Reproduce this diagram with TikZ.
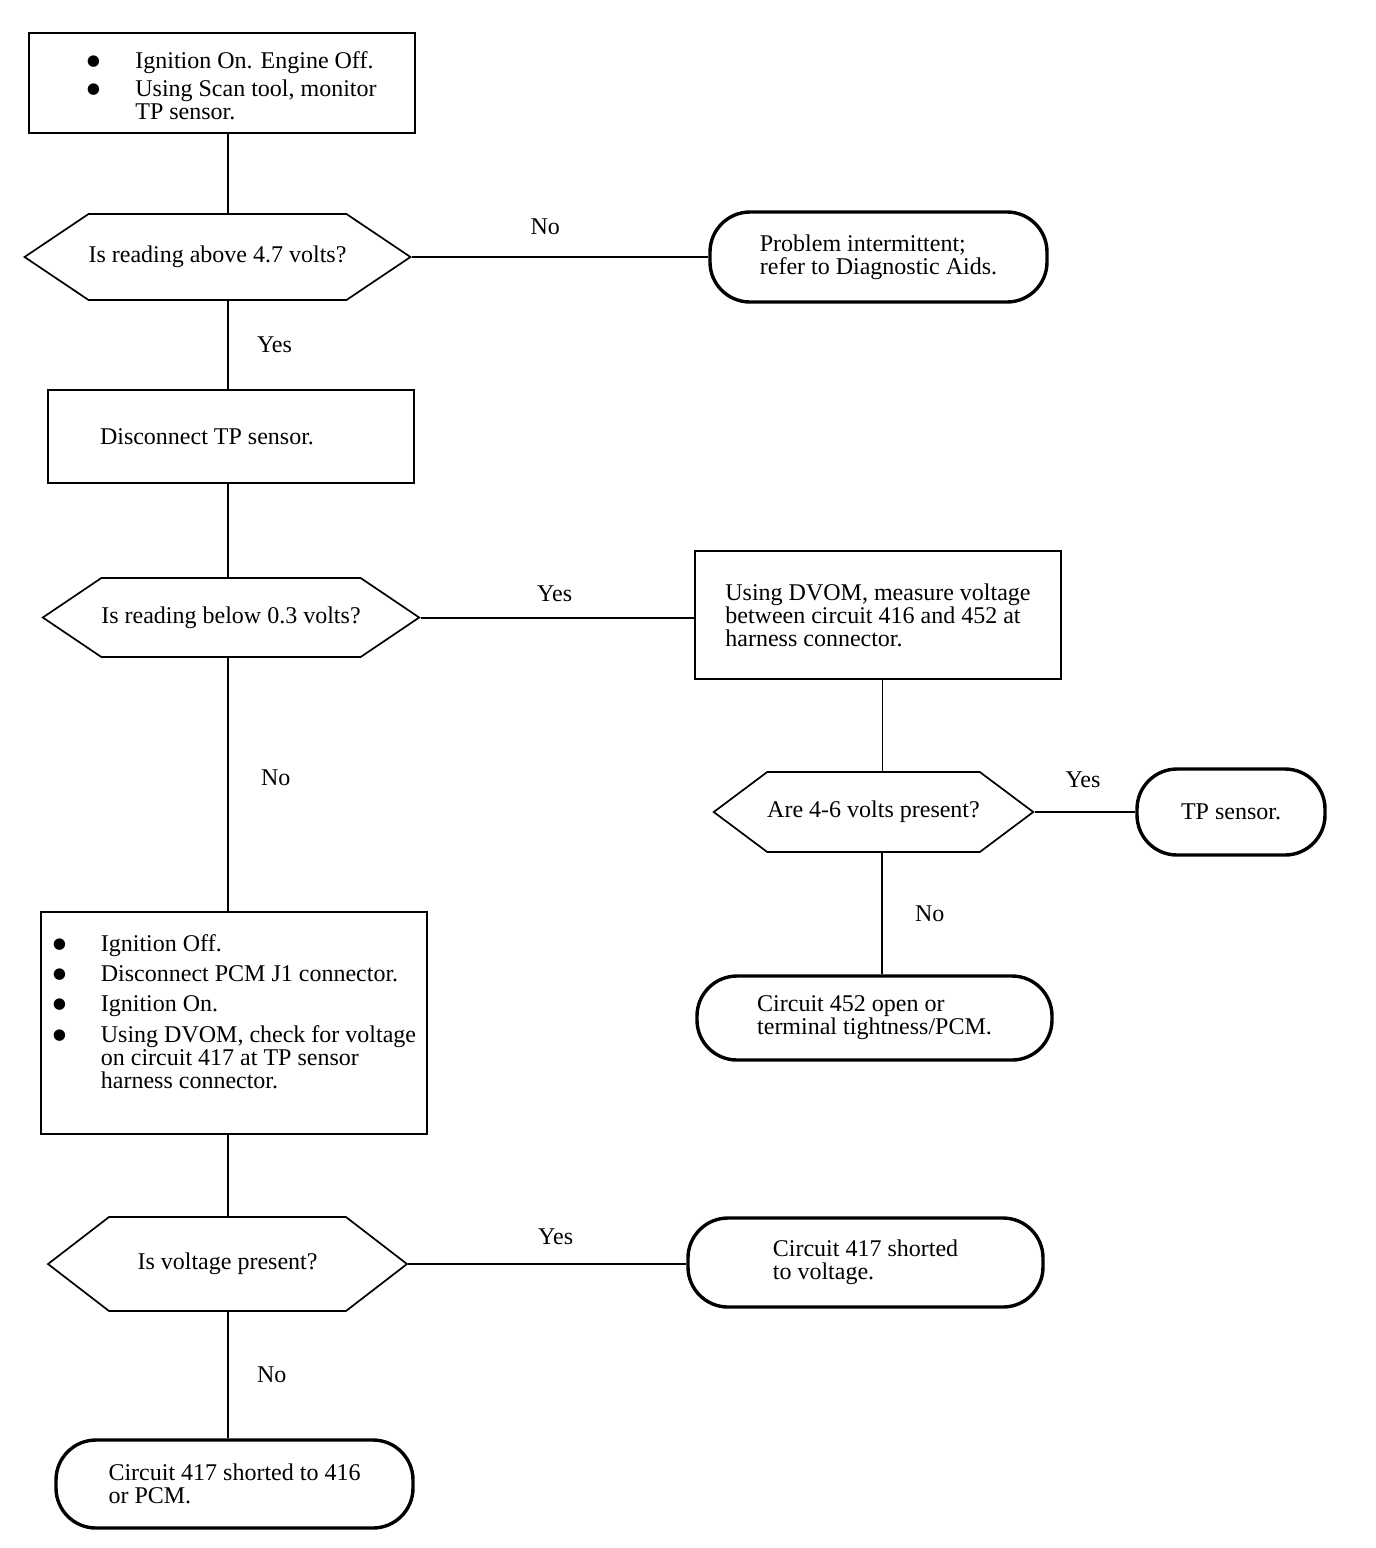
\documentclass[tikz,border=0pt]{standalone}
\usepackage{fontspec}
\setmainfont{Liberation Serif}
\usepackage{graphicx}
\usetikzlibrary{shapes.symbols,positioning,calc}
\newcommand{\steptext}{\fontsize{12}{11.5}\selectfont}
\newcommand{\blt}{\raisebox{-4.5pt}[0pt][0pt]{\scalebox{2}{\textbullet}}}
\tikzset{
  % Arbejdstrin: almindelig rektangel
  stepbox/.style={draw, line width=1pt, fill=white,
    inner sep=4pt, align=left, font=\steptext},
  % Spoergsmaal: sekskant, spids til venstre og hoejre
  ask/.style={draw, line width=.85pt, fill=white,
    signal, signal to=west and east, inner xsep=0pt, inner ysep=2pt,
    font=\steptext},
  % Resultat: tyk afrundet ramme
  result/.style={draw, line width=1.7pt, fill=white,
    rounded corners=20pt, inner sep=4pt, align=left, font=\steptext},
  link/.style={line width=1pt},
  thinlink/.style={line width=.5pt},
  lbl/.style={font=\steptext, inner sep=0pt},
}
% \stepnode{navn}{x,y}{bredde}{hoejde}{tekst}   (maal i px)
\newcommand{\stepnode}[5]{%
  \node[stepbox, minimum width={#3*.5pt}, minimum height={#4*.5pt}] (#1) at (#2) {#5};}
% \asknode{navn}{x,y}{bredde}{hoejde}{vinkel}{tekst}
\newcommand{\asknode}[6]{%
  \node[ask, minimum width={#3*.5pt}, minimum height={#4*.5pt},
    signal pointer angle=#5] (#1) at (#2) {#6};}
% \resnode{navn}{x,y}{bredde}{hoejde}{tekst}
\newcommand{\resnode}[5]{%
  \node[result, minimum width={#3*.5pt}, minimum height={#4*.5pt}] (#1) at (#2) {#5};}

\begin{document}
\begin{tikzpicture}[x=.5pt,y=.5pt]
\useasboundingbox (0,0) rectangle (1376,-1548);

% ----- venstre kolonne -----
\stepnode{start}{222,-83}{386}{100}{%
  \begin{tabular}{@{\hspace{9pt}}p{25pt}@{}l@{}}
  \blt & Ignition On. Engine Off.\\[2.5pt]
  \blt & Using Scan tool, monitor\\
       & TP sensor.\\[-6pt]
  \end{tabular}}
\asknode{above47}{217.5,-257}{385}{86}{67.8}{Is reading above 4.7 volts?}
\stepnode{disc}{231,-436.5}{366}{93}{\makebox[131pt][l]{Disconnect TP sensor.}}
\asknode{below03}{231,-617.5}{376}{79}{68}{Is reading below 0.3 volts?}
\stepnode{check}{234,-1023}{386}{222}{%
  \begin{tabular}{@{}p{24.5pt}@{}l@{}}
  \blt & Ignition Off.\\[3.5pt]
  \blt & Disconnect PCM J1 connector.\\[3.5pt]
  \blt & Ignition On.\\[3.5pt]
  \blt & Using DVOM, check for voltage\\
       & on circuit 417 at TP sensor\\
       & harness connector.\\[8pt]
  \end{tabular}}
\asknode{volt}{227.5,-1264}{359}{94}{75.2}{Is voltage present?}
\resnode{short416}{234.5,-1484}{357}{88}{Circuit 417 shorted to 416\\or PCM.}

% ----- hoejre kolonne -----
\resnode{intermit}{878.5,-257}{337}{90}{Problem intermittent;\\refer to Diagnostic Aids.}
\stepnode{dvom}{878,-615}{366}{128}{Using DVOM, measure voltage\\between circuit 416 and 452 at\\harness connector.}
\asknode{fourSix}{873.5,-812}{319}{80}{73.6}{Are 4-6 volts present?}
\resnode{tpsensor}{1231,-812}{188}{86}{TP sensor.}
\resnode{open452}{874.5,-1018}{355}{84}{Circuit 452 open or\\terminal tightness/PCM.}
\resnode{shortv}{865.5,-1262.5}{355}{89}{Circuit 417 shorted\\to voltage.}

% ----- forbindelser -----
\coordinate (lspine) at (228,0);
\coordinate (rspine) at (882,0);
\draw[link] (start.south -| lspine) -- (above47.north -| lspine);
\draw[link] (above47.east) -- node[lbl,pos=.45,above=10.5pt]{No} (intermit.west);
\draw[link] (above47.south -| lspine) -- node[lbl,right=14pt]{Yes} (disc.north -| lspine);
\draw[link] (disc.south -| lspine) -- (below03.north -| lspine);
\draw[link] (below03.east) -- node[lbl,pos=.49,above=7.5pt]{Yes} (below03.east -| dvom.west);
\draw[link] (below03.south -| lspine) -- node[lbl,pos=.475,right=16pt]{No} (check.north -| lspine);
\draw[link] (check.south -| lspine) -- (volt.north -| lspine);
\draw[link] (volt.east) -- node[lbl,pos=.53,above=9pt]{Yes} (volt.east -| shortv.west);
\draw[link] (volt.south -| lspine) -- node[lbl,right=14pt]{No} (short416.north -| lspine);

% DVOM-maaling og 4-6 volt
\draw[thinlink] (dvom.south -| rspine) -- (fourSix.north -| rspine);
\draw[link] (fourSix.east) -- node[lbl,pos=.48,above=11.5pt]{Yes} (tpsensor.west);
\draw[link] (fourSix.south -| rspine) -- node[lbl,right=16pt]{No} (open452.north -| rspine);

\end{tikzpicture}
\end{document}
